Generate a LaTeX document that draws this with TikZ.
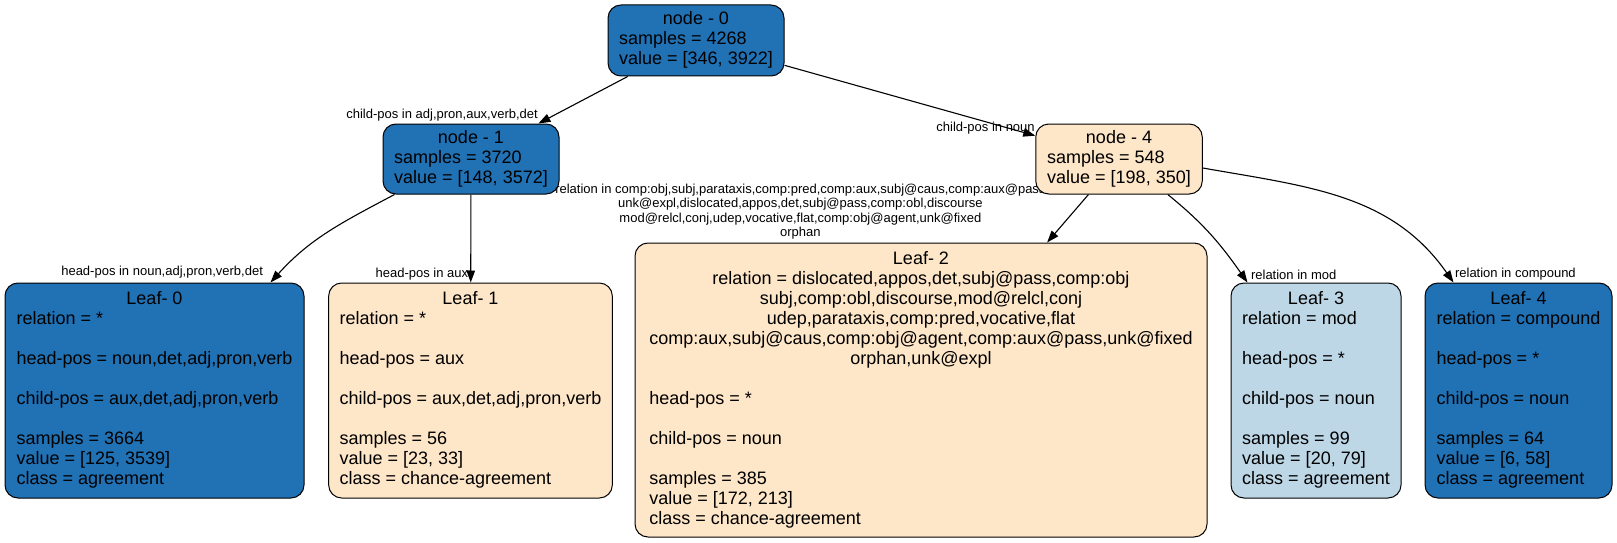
\documentclass[tikz,border=0pt]{standalone}
\usepackage{fontspec}
\setmainfont{Liberation Sans}
\usetikzlibrary{arrows.meta, backgrounds}
\definecolor{deepblue}{RGB}{33,113,181}
\definecolor{paleblue}{RGB}{189,215,231}
\definecolor{peach}{RGB}{254,230,200}

\begin{document}
\begin{tikzpicture}[x=1pt, y=-1pt, >={Triangle[length=12pt, width=8.5pt]},
    box/.style={draw, line width=1pt, rounded corners=13pt, inner xsep=11pt, inner ysep=2pt,
      font=\fontsize{18}{20}\selectfont},
    split/.style={->, line width=1.1pt},
    elabel/.style={inner sep=0pt, font=\fontsize{13}{14.5}\selectfont}]
    \useasboundingbox (0,0) rectangle (1617,543);

    % inner nodes
    \node[box, fill=deepblue, minimum width=176pt, minimum height=71pt] (n0) at (696,40.5)
      {\begin{tabular}{@{}l@{}}\multicolumn{1}{@{}c@{}}{node - 0}\\samples = 4268\\value = [346, 3922]\end{tabular}};
    \node[box, fill=deepblue, minimum width=176pt, minimum height=70pt] (n1) at (471,159)
      {\begin{tabular}{@{}l@{}}\multicolumn{1}{@{}c@{}}{node - 1}\\samples = 3720\\value = [148, 3572]\end{tabular}};
    \node[box, fill=peach, minimum width=166.5pt, minimum height=70pt] (n4) at (1119,159)
      {\begin{tabular}{@{}l@{}}\multicolumn{1}{@{}c@{}}{node - 4}\\samples = 548\\value = [198, 350]\end{tabular}};

    % leaves
    \node[box, fill=deepblue, minimum width=299pt, minimum height=215pt] (l0) at (154.5,390.5)
      {\begin{tabular}{@{}l@{}}\multicolumn{1}{@{}c@{}}{Leaf- 0}\\relation = *\\[20pt]head-pos = noun,det,adj,pron,verb\\[20pt]
       child-pos = aux,det,adj,pron,verb\\[20pt]samples = 3664\\value = [125, 3539]\\class = agreement\end{tabular}};
    \node[box, fill=peach, minimum width=283pt, minimum height=215pt] (l1) at (470.5,390.5)
      {\begin{tabular}{@{}l@{}}\multicolumn{1}{@{}c@{}}{Leaf- 1}\\relation = *\\[20pt]head-pos = aux\\[20pt]
       child-pos = aux,det,adj,pron,verb\\[20pt]samples = 56\\value = [23, 33]\\class = chance-agreement\end{tabular}};
    \node[box, fill=peach, minimum width=572pt, minimum height=294pt] (l2) at (921,390)
      {\begin{tabular}{@{}l@{}}\multicolumn{1}{@{}c@{}}{Leaf- 2}\\
       \multicolumn{1}{@{}c@{}}{relation = dislocated,appos,det,subj@pass,comp:obj}\\
       \multicolumn{1}{@{}c@{}}{subj,comp:obl,discourse,mod@relcl,conj}\\
       \multicolumn{1}{@{}c@{}}{udep,parataxis,comp:pred,vocative,flat}\\
       \multicolumn{1}{@{}c@{}}{comp:aux,subj@caus,comp:obj@agent,comp:aux@pass,unk@fixed}\\
       \multicolumn{1}{@{}c@{}}{orphan,unk@expl}\\[20pt]
       head-pos = *\\[20pt]child-pos = noun\\[20pt]samples = 385\\value = [172, 213]\\class = chance-agreement\end{tabular}};
    \node[box, fill=paleblue, minimum width=170pt, minimum height=215pt] (l3) at (1316,390.5)
      {\begin{tabular}{@{}l@{}}\multicolumn{1}{@{}c@{}}{Leaf- 3}\\relation = mod\\[20pt]head-pos = *\\[20pt]
       child-pos = noun\\[20pt]samples = 99\\value = [20, 79]\\class = agreement\end{tabular}};
    \node[box, fill=deepblue, minimum width=187pt, minimum height=215pt] (l4) at (1518.5,390.5)
      {\begin{tabular}{@{}l@{}}\multicolumn{1}{@{}c@{}}{Leaf- 4}\\relation = compound\\[20pt]head-pos = *\\[20pt]
       child-pos = noun\\[20pt]samples = 64\\value = [6, 58]\\class = agreement\end{tabular}};

    % splits, drawn under the boxes
    \begin{scope}[on background layer]
      \draw[split] (n0) -- node[elabel, at end, anchor=east, yshift=8pt] {child-pos in adj,pron,aux,verb,det} (n1);
      \draw[split] (n0) -- node[elabel, at end, anchor=east, yshift=7.5pt] {child-pos in noun} (n4);
      \draw[split] ([xshift=12pt]n1.south west) to[out=208, in=48]
        node[elabel, at end, anchor=east, xshift=-7pt, yshift=10pt] {head-pos in noun,adj,pron,verb,det}
        ([xshift=-34pt]l0.north east);
      \draw[split] (n1) -- node[elabel, at end, anchor=east, xshift=-2pt, yshift=8pt] {head-pos in aux} (l1);
      \draw[split] (n4) -- node[elabel, at end, anchor=east, align=center, xshift=-1pt, yshift=31pt]
        {relation in comp:obj,subj,parataxis,comp:pred,comp:aux,subj@caus,comp:aux@pass\\
         unk@expl,dislocated,appos,det,subj@pass,comp:obl,discourse\\
         mod@relcl,conj,udep,vocative,flat,comp:obj@agent,unk@fixed\\orphan} (l2);
      \draw[split] ([xshift=-35pt]n4.south east) to[out=-39, in=125]
        node[elabel, at end, anchor=west, xshift=3pt, yshift=8pt] {relation in mod}
        ([xshift=17pt]l3.north west);
      \draw[split] ([yshift=-9pt]n4.east) to[out=-10, in=125]
        node[elabel, at end, anchor=west, xshift=1pt, yshift=8pt] {relation in compound}
        ([xshift=29pt]l4.north west);
    \end{scope}
\end{tikzpicture}
\end{document}
